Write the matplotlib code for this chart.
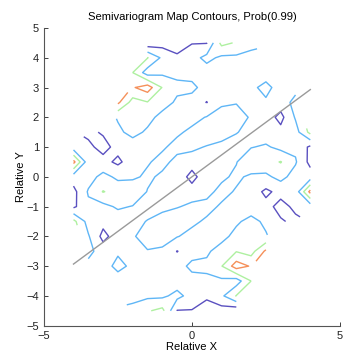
import numpy as np
import matplotlib
matplotlib.use("Agg")
import matplotlib.pyplot as plt

plt.rcParams['font.family'] = ['Liberation Sans', 'DejaVu Sans']

n = np.nan
# lag grid (relative x / relative y), spacing 0.5
lag_x = [-4, -3.5, -3, -2.5, -2, -1.5, -1, -0.5, 0, 0.5, 1, 1.5, 2, 2.5, 3, 3.5, 4]
lag_y = [-4.5, -4, -3.5, -3, -2.5, -2, -1.5, -1, -0.5, 0,
         0.5, 1, 1.5, 2, 2.5, 3, 3.5, 4, 4.5]

# semivariogram map values, rows from y=-4.5 (first) to y=4.5 (last)
row_m45 = [n, n, n, n, 2.2, 2.9, 3.3, 0.95, 0.95, 0.45, 0.6, 0.3, n, n, n, n, n]
row_m40 = [n, n, n, 1.7, 1.8, 1.8, 1.8, 2.3, 1.6, 1.2, 1.8, 3.05, n, n, n, n, n]
row_m35 = [n, n, 1.5, 1.35, 1.6, 1.6, 1.5, 1.5, 1.55, 1.8, 1.8, 1.5, 3.0, n, n, n, n]
row_m30 = [n, 1.7, 1.4, 2.4, 1.7, 1.7, 1.6, 1.5, 2.3, 2.2, 2.95, 4.5, 3.9, n, n, n, n]
row_m25 = [n, 2.3, 1.5, 1.8, 1.6, 1.95, 1.8, 0.97, 1.5, 1.85, 2.4, 2.95, 2.6, 4.2, n, n, n]
row_m20 = [n, 2.1, 0.7, 1.5, 1.9, 2.4, 2.5, 2.05, 1.7, 1.5, 1.7, 2.3, 2.5, 2.1, n, n, n]
row_m15 = [3.3, 1.6, 1.3, 1.4, 1.7, 2.05, 2.4, 2.5, 2.2, 1.85, 1.6, 1.85, 2.3, 1.8, 1.1, 0.8, n]
row_m10 = [0.8, 1.8, 1.7, 2.15, 1.95, 1.6, 1.75, 1.95, 2.15, 2.3, 1.87, 1.6, 1.5, 1.3, 0.7, 1.2, 1.45]
row_m05 = [0.7, 2.1, 3.05, 2.6, 2.8, 1.95, 1.7, 1.6, 1.65, 1.7, 2.3, 1.9, 1.5, 0.8, 1.3, 1.4, 4.3]
row_000 = [1.5, 1.6, 2.3, 1.8, 1.8, 2.2, 1.8, 1.9, 0.5, 1.9, 1.8, 2.2, 1.8, 1.8, 2.3, 1.6, 1.5]
row_p05 = [4.3, 1.4, 1.3, 0.8, 1.5, 1.9, 2.3, 1.7, 1.65, 1.6, 1.7, 1.95, 2.8, 2.6, 3.05, 2.1, 0.7]
row_p10 = [1.45, 1.2, 0.7, 1.3, 1.5, 1.6, 1.87, 2.3, 2.15, 1.95, 1.75, 1.6, 1.95, 2.15, 1.7, 1.8, 0.8]
row_p15 = [n, 0.8, 1.1, 1.8, 2.3, 1.85, 1.6, 1.85, 2.2, 2.5, 2.4, 2.05, 1.7, 1.4, 1.3, 1.6, 3.3]
row_p20 = [n, n, n, 2.1, 2.5, 2.3, 1.7, 1.5, 1.7, 2.05, 2.5, 2.4, 1.9, 1.5, 0.7, 2.1, n]
row_p25 = [n, n, n, 4.2, 2.6, 2.95, 2.4, 1.85, 1.5, 0.97, 1.8, 1.95, 1.6, 1.8, 1.5, 2.3, n]
row_p30 = [n, n, n, n, 3.9, 4.5, 2.95, 2.2, 2.3, 1.5, 1.6, 1.7, 1.7, 2.4, 1.4, 1.7, n]
row_p35 = [n, n, n, n, 3.0, 1.5, 1.8, 1.8, 1.55, 1.5, 1.5, 1.6, 1.6, 1.35, 1.5, n, n]
row_p40 = [n, n, n, n, n, 3.05, 1.8, 1.2, 1.6, 2.3, 1.8, 1.8, 1.8, 1.7, n, n, n]
row_p45 = [n, n, n, n, n, 0.3, 0.6, 0.45, 0.95, 0.95, 3.3, 2.9, 2.2, n, n, n, n]

contour_levels = [1, 2, 3, 4]
contour_colors = ['#5a50c0', '#5fb6f6', '#aef0a0', '#f5905a']

# major-axis direction line
axis_x = [-4, 4]
axis_y = [-2.93, 2.93]

Z = np.ma.masked_invalid(np.array([
    row_m45, row_m40, row_m35, row_m30, row_m25, row_m20, row_m15, row_m10, row_m05,
    row_000,
    row_p05, row_p10, row_p15, row_p20, row_p25, row_p30, row_p35, row_p40, row_p45,
], dtype=float))
X, Y = np.meshgrid(lag_x, lag_y)

fig = plt.figure(figsize=(3.43, 3.54), dpi=100)
ax = fig.add_axes([0.128, 0.080, 0.863, 0.841])

ax.contour(X, Y, Z, levels=contour_levels, colors=contour_colors, linewidths=1.0)
ax.plot(axis_x, axis_y, color='#9a9a9a', linewidth=1.0)

ax.set_xlim(-5, 5)
ax.set_ylim(-5, 5)
ax.set_xticks([-5, 0, 5])
ax.set_yticks(list(range(-5, 6)))
ax.tick_params(direction='in', length=3, labelsize=8, colors='#222222', width=0.6)
for s in ['top', 'right']:
    ax.spines[s].set_visible(False)
for s in ['left', 'bottom']:
    ax.spines[s].set_color('#555555')
    ax.spines[s].set_linewidth(0.8)

ax.set_title('Semivariogram Map Contours, Prob(0.99)', fontsize=8.1, pad=6)
ax.set_xlabel('Relative X', fontsize=8, labelpad=1)
ax.set_ylabel('Relative Y', fontsize=8, labelpad=0)

fig.savefig('out.png', dpi=100, facecolor='white')
